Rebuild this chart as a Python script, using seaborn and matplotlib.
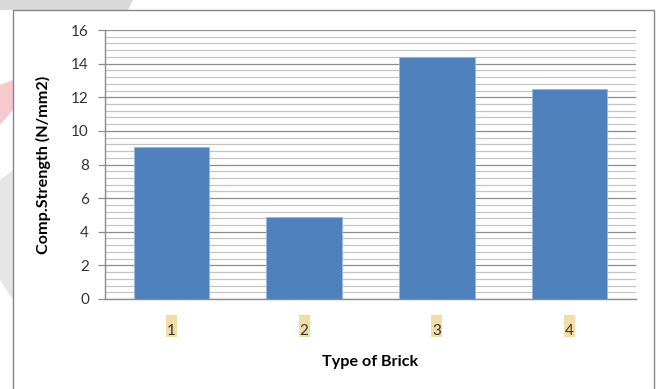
import matplotlib
matplotlib.use("Agg")
import matplotlib.pyplot as plt
import matplotlib.transforms as mtransforms
import seaborn as sns
import pandas as pd
import numpy as np
from matplotlib.patches import Polygon, Rectangle
from matplotlib.ticker import MultipleLocator

categories = ["1", "2", "3", "4"]
strength = [9.05, 4.9, 14.4, 12.5]
y_ticks = [0, 2, 4, 6, 8, 10, 12, 14, 16]
x_label = "Type of Brick"
y_label = "Comp.Strength (N/mm2)"

df = pd.DataFrame({"brick": categories, "strength": strength})

sns.set_theme(style="white")
plt.rcParams["font.family"] = ["Lato", "DejaVu Sans"]

W, H = 657, 389
fig = plt.figure(figsize=(W / 100, H / 100), dpi=100)

# faint watermark shapes outside chart area
fig.patches.append(Polygon([[0, 1], [133 / W, 1], [128 / W, 1 - 10 / H], [0, 1 - 10 / H]],
                           closed=True, transform=fig.transFigure, facecolor="#d9d9d9",
                           edgecolor="none", zorder=-2))
fig.patches.append(Polygon([[0, 1 - 85 / H], [13 / W, 1 - 80 / H], [13 / W, 1 - 110 / H], [0, 1 - 125 / H]],
                           closed=True, transform=fig.transFigure, facecolor="#f7c9cf",
                           edgecolor="none", zorder=-2))
fig.patches.append(Polygon([[0, 1 - 180 / H], [13 / W, 1 - 170 / H], [13 / W, 1 - 300 / H], [0, 1 - 280 / H]],
                           closed=True, transform=fig.transFigure, facecolor="#e6e6e6",
                           edgecolor="none", zorder=-2))

# chart border
fig.patches.append(Rectangle((13 / W, -0.05), (654 - 13) / W, 1.05 - 10 / H,
                             transform=fig.transFigure, facecolor="white",
                             edgecolor="#868686", linewidth=1.0, zorder=-1))

ax = fig.add_axes([105 / W, 1 - 299 / H, (636 - 105) / W, (299 - 30) / H])
ax.set_facecolor("none")
ax.set_zorder(2)

sns.barplot(data=df, x="brick", y="strength", ax=ax, color="#4f81bd",
            saturation=1, width=0.57, edgecolor="#9bb7dd", linewidth=0.6, zorder=3)

ax.set_xlim(-0.5, 3.5)
ax.set_ylim(0, 16)
ax.set_yticks(y_ticks)
ax.yaxis.set_minor_locator(MultipleLocator(0.4))
ax.grid(which="major", axis="y", color="#8c8c8c", linewidth=0.9, zorder=1)
ax.grid(which="minor", axis="y", color="#c4c4c4", linewidth=0.9, zorder=1)
ax.set_axisbelow(True)

for s in ["top", "right"]:
    ax.spines[s].set_visible(False)
for s in ["left", "bottom"]:
    ax.spines[s].set_color("#8c8c8c")
    ax.spines[s].set_linewidth(1.0)

ax.tick_params(axis="y", which="major", left=True, length=5, width=0.9, color="#8c8c8c",
               labelsize=11, labelcolor="#333333", pad=6.5)
ax.tick_params(axis="y", which="minor", left=False)
ax.tick_params(axis="x", bottom=False, labelsize=11, labelcolor="#333333", pad=12)

# highlight boxes behind the category labels (like a search highlight)
plot_h = 299 - 30
plot_w = 636 - 105
trans = mtransforms.blended_transform_factory(ax.transData, ax.transAxes)
box_w = 11 / plot_w * 4  # in category units
for i, _ in enumerate(categories):
    ax.add_patch(Rectangle((i - box_w / 2, -(337 - 299) / plot_h), box_w, 22 / plot_h,
                           transform=trans, facecolor="#f3dca6", edgecolor="none",
                           clip_on=False, zorder=0))

ax.set_xlabel(x_label, fontsize=11.6, fontweight="bold", color="black")
ax.set_ylabel(y_label, fontsize=11.6, fontweight="bold", color="black")
ax.xaxis.set_label_coords(0.5, -(355 - 299) / plot_h, transform=ax.transAxes)
ax.yaxis.set_label_coords(-(105 - 51) / plot_w, 0.5, transform=ax.transAxes)

fig.savefig("out.png", dpi=100)
